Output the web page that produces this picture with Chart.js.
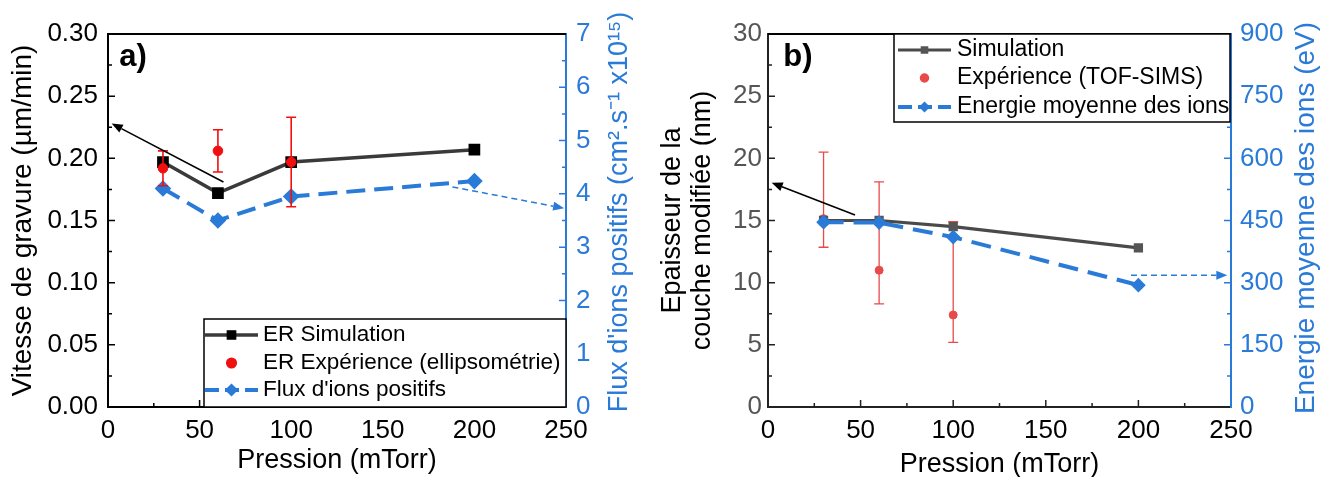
<!DOCTYPE html>
<html lang="fr">
<head>
<meta charset="UTF-8">
<title>Pression (mTorr)</title>
<script src="https://cdn.jsdelivr.net/npm/chart.js"></script>
<style>
  body { margin: 0; background: #fff; }
  #wrap { position: relative; width: 1323px; height: 477px; overflow: hidden; }
  #chartA { position: absolute; left: 0; top: 0; }
  #chartB { position: absolute; left: 660px; top: 0; }
</style>
</head>
<body>
<div id="wrap">
  <canvas id="chartA" width="660" height="477"></canvas>
  <canvas id="chartB" width="663" height="477"></canvas>
</div>
<script>
// --- donnees ---
const pression    = [30, 60, 100, 200];
const pressionExp = [30, 60, 100];

// a) vitesse de gravure
const erSim     = [0.197, 0.172, 0.197, 0.207];
const erExp     = [0.192, 0.206, 0.197];
const erExpLow  = [0.178, 0.189, 0.161];
const erExpHigh = [0.206, 0.223, 0.233];
const fluxIons  = [4.10, 3.50, 3.95, 4.24];
const labelsA   = ['ER Simulation', 'ER Expérience (ellipsométrie)', "Flux d'ions positifs"];

// b) epaisseur de la couche modifiee
const epSim     = [15.0, 15.0, 14.5, 12.8];
const epExp     = [15.15, 11.0, 7.4];
const epExpLow  = [12.85, 8.3, 5.2];
const epExpHigh = [20.5, 18.1, 14.9];
const energie   = [446, 445, 410, 294];
const labelsB   = ['Simulation', 'Expérience (TOF-SIMS)', 'Energie moyenne des ions'];

// fleches (x1, y1, x2, y2 en coordonnees des axes)
const flecheA1 = [63, 0.181, 2, 0.228];
const flecheA2 = [188, 4.13, 249, 3.73];
const flecheB1 = [47, 15.44, 2, 18.04];
const flecheB2 = [196, 318, 248, 318];

const BLUE = '#2a7ad8';
const FONT = '"Liberation Sans", Arial, sans-serif';
Chart.defaults.font.family = FONT;

function pts(xs, ys) { return xs.map((x, i) => ({x: x, y: ys[i]})); }

function drawArrow(ctx, x1, y1, x2, y2, color, width, dash) {
  const head = 11, half = 4.5;
  const ang = Math.atan2(y2 - y1, x2 - x1);
  const hx = x2 - head * Math.cos(ang), hy = y2 - head * Math.sin(ang);
  ctx.save();
  ctx.strokeStyle = color; ctx.fillStyle = color; ctx.lineWidth = width;
  ctx.setLineDash(dash);
  ctx.beginPath(); ctx.moveTo(x1, y1); ctx.lineTo(hx, hy); ctx.stroke();
  ctx.setLineDash([]);
  ctx.beginPath();
  ctx.moveTo(x2, y2);
  ctx.lineTo(hx + half * Math.sin(ang), hy - half * Math.cos(ang));
  ctx.lineTo(hx - half * Math.sin(ang), hy + half * Math.cos(ang));
  ctx.closePath(); ctx.fill();
  ctx.restore();
}

function drawErr(chart, o) {
  if (!o.err) return;
  const e = o.err, ctx = chart.ctx;
  const xs = chart.scales.x, ys = chart.scales.y;
  const data = chart.data.datasets[e.dataset].data;
  ctx.save();
  ctx.strokeStyle = e.color; ctx.lineWidth = e.width;
  data.forEach((p, i) => {
    const px = xs.getPixelForValue(p.x);
    const lo = ys.getPixelForValue(e.lo[i]), hi = ys.getPixelForValue(e.hi[i]);
    ctx.beginPath();
    ctx.moveTo(px, lo); ctx.lineTo(px, hi);
    ctx.moveTo(px - e.cap, lo); ctx.lineTo(px + e.cap, lo);
    ctx.moveTo(px - e.cap, hi); ctx.lineTo(px + e.cap, hi);
    ctx.stroke();
  });
  ctx.restore();
}

const deco = {
  id: 'deco',
  beforeDatasetsDraw(chart, args, o) { if (o.err && o.err.under) drawErr(chart, o); },
  afterDatasetsDraw(chart, args, o) { if (o.err && !o.err.under) drawErr(chart, o); },
  afterDraw(chart, args, o) {
    const ctx = chart.ctx, a = chart.chartArea;
    // bord superieur
    ctx.save();
    ctx.strokeStyle = o.topColor; ctx.lineWidth = 2;
    ctx.beginPath(); ctx.moveTo(a.left, a.top); ctx.lineTo(a.right, a.top); ctx.stroke();
    ctx.restore();
    // graduations vers l'interieur
    o.ticks.forEach(t => {
      const s = chart.scales[t.id];
      const n = Math.round((s.max - s.min) / t.minor);
      const every = Math.round(t.major / t.minor);
      ctx.save();
      ctx.strokeStyle = t.color; ctx.lineWidth = 1.5;
      ctx.beginPath();
      for (let i = 1; i < n; i++) {
        const v = s.min + i * t.minor;
        const len = (i % every === 0) ? 7 : 4;
        const p = s.getPixelForValue(v);
        if (t.side === 'bottom') { ctx.moveTo(p, a.bottom); ctx.lineTo(p, a.bottom - len); }
        if (t.side === 'left')   { ctx.moveTo(a.left, p); ctx.lineTo(a.left + len, p); }
        if (t.side === 'right')  { ctx.moveTo(a.right, p); ctx.lineTo(a.right - len, p); }
      }
      ctx.stroke();
      ctx.restore();
    });
    // titre de l'axe droit (lu de bas en haut)
    const R = o.rightTitle;
    ctx.save();
    ctx.translate(R.x, R.y);
    ctx.rotate(-Math.PI / 2);
    ctx.fillStyle = R.color;
    ctx.font = R.size + 'px ' + FONT;
    ctx.textAlign = 'center'; ctx.textBaseline = 'middle';
    ctx.fillText(R.text, 0, 0);
    ctx.restore();
    // fleches
    o.arrows.forEach(f => {
      const xs = chart.scales.x, ys = chart.scales[f.y];
      drawArrow(ctx, xs.getPixelForValue(f.pts[0]), ys.getPixelForValue(f.pts[1]),
                xs.getPixelForValue(f.pts[2]), ys.getPixelForValue(f.pts[3]), f.color, f.width, f.dash);
    });
    // legende
    const L = o.legend;
    ctx.save();
    ctx.fillStyle = '#fff'; ctx.strokeStyle = '#000'; ctx.lineWidth = 1.5;
    ctx.fillRect(L.box[0], L.box[1], L.box[2] - L.box[0], L.box[3] - L.box[1]);
    ctx.strokeRect(L.box[0], L.box[1], L.box[2] - L.box[0], L.box[3] - L.box[1]);
    chart.data.datasets.forEach((ds, i) => {
      const y = L.rows[i], cx = (L.sym[0] + L.sym[1]) / 2;
      if (ds.showLine !== false) {
        ctx.save();
        ctx.strokeStyle = ds.borderColor; ctx.lineWidth = ds.borderWidth;
        ctx.setLineDash(ds.legendDash || []);
        ctx.beginPath(); ctx.moveTo(L.sym[0], y); ctx.lineTo(L.sym[1], y); ctx.stroke();
        ctx.restore();
      }
      ctx.fillStyle = ds.pointBackgroundColor; ctx.strokeStyle = ds.pointBorderColor;
      Chart.helpers.drawPoint(ctx, {pointStyle: ds.pointStyle, radius: ds.pointRadius,
        borderWidth: 1, rotation: 0}, cx, y);
      ctx.fillStyle = '#000';
      ctx.font = L.font + 'px ' + FONT;
      ctx.textBaseline = 'middle'; ctx.textAlign = 'left';
      ctx.fillText(ds.label, L.textX, y);
    });
    ctx.restore();
    // etiquette du panneau
    ctx.save();
    ctx.fillStyle = '#000';
    ctx.font = 'bold 31px ' + FONT;
    ctx.textAlign = 'center'; ctx.textBaseline = 'middle';
    ctx.fillText(o.tag.text, o.tag.x, o.tag.y);
    ctx.restore();
  }
};

function xAxis(border, titlePad) {
  return {
    type: 'linear', position: 'bottom', min: 0, max: 250,
    ticks: {stepSize: 50, color: '#000', font: {size: 26}, padding: 8, maxRotation: 0},
    grid: {display: false, drawTicks: false},
    border: {color: border, width: 2},
    title: {display: true, text: 'Pression (mTorr)', color: '#000', font: {size: 27},
            padding: {top: 0, bottom: titlePad}},
    afterFit: s => { s.height = 70; }
  };
}

// ---------- a) ----------
new Chart(document.getElementById('chartA'), {
  type: 'line',
  data: {
    datasets: [
      {label: labelsA[0], data: pts(pression, erSim), yAxisID: 'y', order: 1,
       borderColor: '#3a3a3a', borderWidth: 3.5, pointStyle: 'rect', pointRadius: 5.8,
       pointBackgroundColor: '#000', pointBorderColor: '#000'},
      {label: labelsA[1], data: pts(pressionExp, erExp), yAxisID: 'y', order: 0, showLine: false,
       borderColor: '#f01010', pointStyle: 'circle', pointRadius: 4.8,
       pointBackgroundColor: '#f01010', pointBorderColor: '#f01010'},
      {label: labelsA[2], data: pts(pression, fluxIons), yAxisID: 'y2', order: 2,
       borderColor: BLUE, borderWidth: 4, borderDash: [19, 9], legendDash: [14, 6],
       pointStyle: 'rectRot', pointRadius: 5.5,
       pointBackgroundColor: BLUE, pointBorderColor: BLUE}
    ]
  },
  options: {
    responsive: false, animation: false, devicePixelRatio: 1,
    layout: {padding: {top: 34, left: 0, right: 0, bottom: 0}},
    scales: {
      x: xAxis('#000', 0),
      y: {
        position: 'left', min: 0, max: 0.3,
        ticks: {stepSize: 0.05, callback: v => v.toFixed(2), color: '#000', font: {size: 26}, padding: 10},
        grid: {display: false, drawTicks: false},
        border: {color: '#000', width: 2},
        title: {display: true, text: 'Vitesse de gravure (µm/min)', color: '#000', font: {size: 28},
                padding: {top: 6, bottom: 0}},
        afterFit: s => { s.width = 108; }
      },
      y2: {
        position: 'right', min: 0, max: 7,
        ticks: {stepSize: 1, color: BLUE, font: {size: 26}, padding: 10},
        grid: {display: false, drawTicks: false},
        border: {color: BLUE, width: 2},
        afterFit: s => { s.width = 94; }
      }
    },
    plugins: {
      legend: {display: false},
      tooltip: {enabled: false},
      deco: {
        topColor: '#000',
        ticks: [
          {id: 'x', minor: 25, major: 50, side: 'bottom', color: '#000'},
          {id: 'y', minor: 0.025, major: 0.05, side: 'left', color: '#000'},
          {id: 'y2', minor: 0.5, major: 1, side: 'right', color: BLUE}
        ],
        rightTitle: {text: "Flux d'ions positifs (cm².s⁻¹ x10¹⁵)", x: 620, y: 212, size: 27, color: BLUE},
        err: {dataset: 1, lo: erExpLow, hi: erExpHigh, color: '#f01010', width: 1.6, cap: 5, under: false},
        arrows: [
          {pts: flecheA1, y: 'y', color: '#000', width: 1.6, dash: []},
          {pts: flecheA2, y: 'y2', color: BLUE, width: 1.5, dash: [6, 4]}
        ],
        legend: {box: [204, 319, 566, 407], sym: [205, 258], textX: 263, rows: [335, 363, 390], font: 22.5},
        tag: {text: 'a)', x: 133, y: 57}
      }
    }
  },
  plugins: [deco]
});

// ---------- b) ----------
new Chart(document.getElementById('chartB'), {
  type: 'line',
  data: {
    datasets: [
      {label: labelsB[0], data: pts(pression, epSim), yAxisID: 'y', order: 1,
       borderColor: '#4a4a4a', borderWidth: 3.2, pointStyle: 'rect', pointRadius: 4.3,
       pointBackgroundColor: '#555', pointBorderColor: '#555'},
      {label: labelsB[1], data: pts(pressionExp, epExp), yAxisID: 'y', order: 2, showLine: false,
       borderColor: '#e84a4a', pointStyle: 'circle', pointRadius: 4,
       pointBackgroundColor: '#e84a4a', pointBorderColor: '#e84a4a'},
      {label: labelsB[2], data: pts(pression, energie), yAxisID: 'y2', order: 0,
       borderColor: BLUE, borderWidth: 4, borderDash: [20, 10], legendDash: [14, 6],
       pointStyle: 'rectRot', pointRadius: 4.5,
       pointBackgroundColor: BLUE, pointBorderColor: BLUE}
    ]
  },
  options: {
    responsive: false, animation: false, devicePixelRatio: 1,
    layout: {padding: {top: 34, left: 0, right: 0, bottom: 0}},
    scales: {
      x: xAxis('#222', -4),
      y: {
        position: 'left', min: 0, max: 30,
        ticks: {stepSize: 5, color: '#555', font: {size: 26}, padding: 6},
        grid: {display: false, drawTicks: false},
        border: {color: '#222', width: 2},
        title: {display: true, text: ['Epaisseur de la', 'couche modifiée (nm)'], color: '#000',
                font: {size: 27, lineHeight: '30px'}, padding: {top: -2, bottom: 0}},
        afterFit: s => { s.width = 108; }
      },
      y2: {
        position: 'right', min: 0, max: 900,
        ticks: {stepSize: 150, color: BLUE, font: {size: 26}, padding: 9},
        grid: {display: false, drawTicks: false},
        border: {color: BLUE, width: 2},
        afterFit: s => { s.width = 92; }
      }
    },
    plugins: {
      legend: {display: false},
      tooltip: {enabled: false},
      deco: {
        topColor: '#000',
        ticks: [
          {id: 'x', minor: 25, major: 50, side: 'bottom', color: '#222'},
          {id: 'y', minor: 2.5, major: 5, side: 'left', color: '#222'},
          {id: 'y2', minor: 75, major: 150, side: 'right', color: BLUE}
        ],
        rightTitle: {text: 'Energie moyenne des ions (eV)', x: 646, y: 218, size: 28, color: BLUE},
        err: {dataset: 1, lo: epExpLow, hi: epExpHigh, color: '#e84a4a', width: 1.3, cap: 5, under: true},
        arrows: [
          {pts: flecheB1, y: 'y', color: '#000', width: 1.6, dash: []},
          {pts: flecheB2, y: 'y2', color: BLUE, width: 1.5, dash: [6, 4]}
        ],
        legend: {box: [234, 34, 570, 122], sym: [238, 291], textX: 297, rows: [50, 78, 107], font: 23},
        tag: {text: 'b)', x: 138, y: 57}
      }
    }
  },
  plugins: [deco]
});
</script>
</body>
</html>
